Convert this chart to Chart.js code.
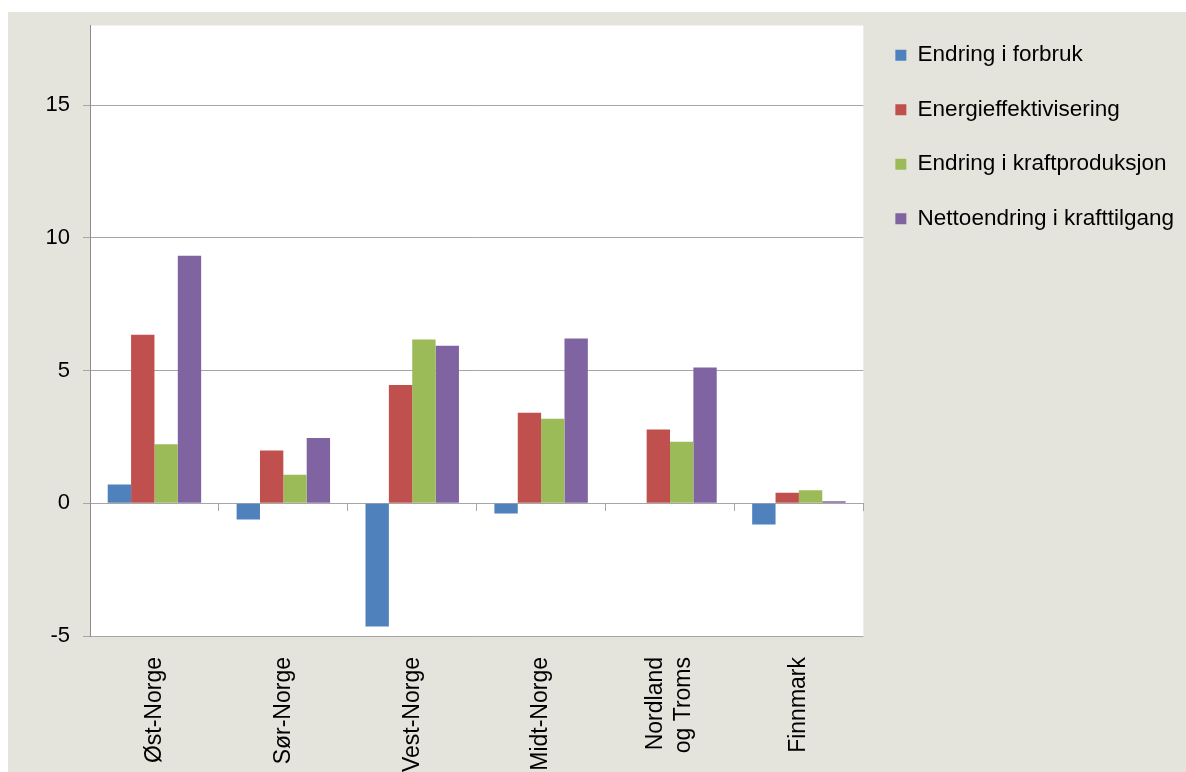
<!DOCTYPE html>
<html>
<head>
<meta charset="utf-8">
<script src="https://cdn.jsdelivr.net/npm/chart.js@4.4.1/dist/chart.umd.min.js"></script>
<style>
  html, body { margin: 0; padding: 0; background: #ffffff; }
  #panel { position: absolute; left: 8px; top: 12px; width: 1178px; height: 760px; background: #e4e4dc; }
</style>
</head>
<body>
<div id="panel"><canvas id="chart" width="1178" height="760"></canvas></div>
<script>
// regions (x categories)
var regions = ['Øst-Norge', 'Sør-Norge', 'Vest-Norge', 'Midt-Norge', ['Nordland', 'og Troms'], 'Finnmark'];

// series values
var endringForbruk = [0.71, -0.61, -4.64, -0.38, 0, -0.80];
var energieffektivisering = [6.35, 1.99, 4.46, 3.41, 2.78, 0.40];
var endringKraftproduksjon = [2.22, 1.08, 6.17, 3.19, 2.32, 0.49];
var nettoendring = [9.33, 2.46, 5.94, 6.21, 5.12, 0.08];

var seriesNames = ['Endring i forbruk', 'Energieffektivisering', 'Endring i kraftproduksjon', 'Nettoendring i krafttilgang'];
var seriesColors = ['#4f81bd', '#c0504d', '#9bbb59', '#8064a2'];

// y axis
var yMin = -5;
var yMax = 18;
var yStep = 5;

var family = '"Liberation Sans", Arial, sans-serif';
var gridColor = '#a6a6a6';
var xLineHeight = 28;

// white plot area behind the bars
var plotBackground = {
    id: 'plotBackground',
    beforeDraw: function(chart) {
        var a = chart.chartArea;
        var ctx = chart.ctx;
        ctx.save();
        ctx.fillStyle = '#ffffff';
        ctx.fillRect(a.left, a.top, a.right - a.left, a.bottom - a.top);
        ctx.restore();
    }
};

// center two-line rotated category labels on their tick
var centerMultiLine = {
    id: 'centerMultiLine',
    beforeDraw: function(chart) {
        chart.scales.x.getLabelItems().forEach(function(item) {
            if (Array.isArray(item.label) && !item._centered) {
                item.options.translation[0] -= (item.label.length - 1) * xLineHeight / 2;
                item._centered = true;
            }
        });
    }
};

function makeDataset(i, values) {
    return {
        label: seriesNames[i],
        data: values,
        backgroundColor: seriesColors[i],
        borderWidth: 0,
        categoryPercentage: 0.725,
        barPercentage: 1
    };
}

new Chart(document.getElementById('chart'), {
    type: 'bar',
    data: {
        labels: regions,
        datasets: [
            makeDataset(0, endringForbruk),
            makeDataset(1, energieffektivisering),
            makeDataset(2, endringKraftproduksjon),
            makeDataset(3, nettoendring)
        ]
    },
    options: {
        responsive: false,
        animation: false,
        layout: { padding: { left: 0, top: 0, right: 2, bottom: 0 } },
        plugins: {
            tooltip: { enabled: false },
            legend: {
                position: 'right',
                align: 'start',
                maxWidth: 400,
                labels: {
                    font: { family: family, size: 22.5 },
                    color: '#000000',
                    boxWidth: 11,
                    boxHeight: 11,
                    padding: 32
                }
            }
        },
        scales: {
            x: {
                type: 'category',
                offset: true,
                grid: { display: false, drawTicks: false },
                border: { display: false },
                ticks: {
                    font: { family: family, size: 23, lineHeight: xLineHeight / 23 },
                    color: '#000000',
                    minRotation: 90,
                    maxRotation: 90,
                    autoSkip: false,
                    padding: 21
                },
                afterFit: function(axis) { axis.height = 136; }
            },
            // axis line at zero with tick marks between the regions
            x2: {
                type: 'category',
                position: { y: 0 },
                offset: true,
                grid: { offset: true, drawOnChartArea: false, tickLength: 7, color: gridColor },
                border: { display: true, color: gridColor, width: 1 },
                ticks: { display: false },
                afterFit: function(axis) { axis.height = 0; }
            },
            y: {
                min: yMin,
                max: yMax,
                ticks: {
                    stepSize: yStep,
                    // tiny line height keeps the top label padding small
                    font: { family: family, size: 22, lineHeight: 0.05 },
                    color: '#000000',
                    padding: 13
                },
                grid: { color: gridColor, tickLength: 7, lineWidth: 1 },
                border: { color: '#8c8c8c', width: 1 },
                afterBuildTicks: function(axis) {
                    axis.ticks = axis.ticks.filter(function(t) { return t.value % yStep === 0; });
                },
                afterFit: function(axis) { axis.width = 82; }
            }
        }
    },
    plugins: [plotBackground, centerMultiLine]
});
</script>
</body>
</html>
